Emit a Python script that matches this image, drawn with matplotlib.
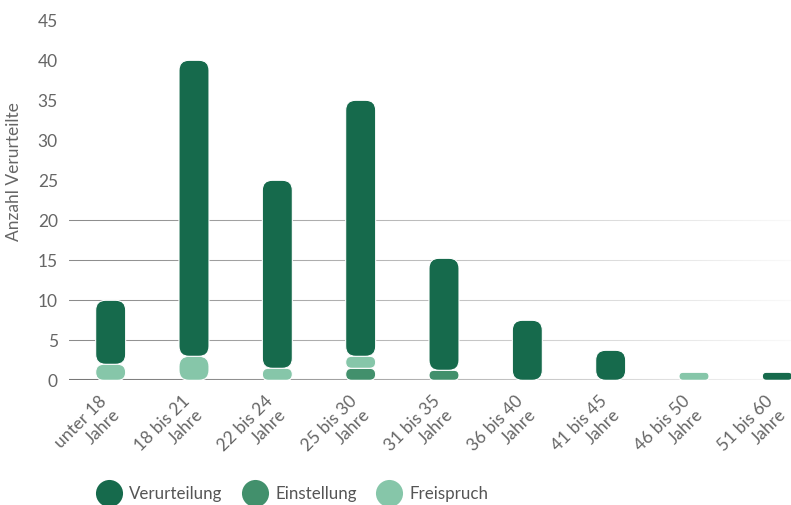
import matplotlib
matplotlib.use("Agg")
import matplotlib.pyplot as plt
import numpy as np
from matplotlib.patches import FancyBboxPatch
from matplotlib.lines import Line2D

# Age groups and case outcomes
categories = ["unter 18\nJahre", "18 bis 21\nJahre", "22 bis 24\nJahre",
              "25 bis 30\nJahre", "31 bis 35\nJahre", "36 bis 40\nJahre",
              "41 bis 45\nJahre", "46 bis 50\nJahre", "51 bis 60\nJahre"]
verurteilung = [8, 37, 23.5, 32, 14, 7.5, 3.75, 0, 1]
einstellung = [0, 0, 0, 1.5, 1.25, 0, 0, 0, 0]
freispruch = [2, 3, 1.5, 1.5, 0, 0, 0, 1, 0]
y_ticks = [0, 5, 10, 15, 20, 25, 30, 35, 40, 45]
grid_levels = [5, 10, 15, 20]

series_names = ["Verurteilung", "Einstellung", "Freispruch"]
colors = {"Verurteilung": "#166a4c", "Einstellung": "#42906c", "Freispruch": "#86c6a9"}
# stacking order from the baseline upwards
stack_order = [("Einstellung", einstellung), ("Freispruch", freispruch),
               ("Verurteilung", verurteilung)]

plt.rcParams["font.family"] = ["Lato", "DejaVu Sans"]
text_color = "#666666"

W, H = 791, 505
fig = plt.figure(figsize=(W / 100, H / 100), dpi=100)
# plot area runs past the right edge of the canvas
left_px, right_px, top_px, bottom_px = 69, 819, 20.3, 380.3
ax = fig.add_axes([left_px / W, 1 - bottom_px / H,
                   (right_px - left_px) / W, (bottom_px - top_px) / H])

n = len(categories)
ax.set_xlim(-0.5, n - 0.5)
ax.set_ylim(0, 45)
for s in ax.spines.values():
    s.set_visible(False)

# pixel size of one data unit
o = ax.transData.transform((0, 0))
px_x = ax.transData.transform((1, 0))[0] - o[0]
px_y = ax.transData.transform((0, 1))[1] - o[1]

# grid lines, then a white veil that fades them out towards the right
for yv in grid_levels:
    ax.axhline(yv, color="#8c8c8c", linewidth=0.75, zorder=1)
ax.axhline(0, color="#777777", linewidth=1.5, zorder=1)
fade = np.ones((2, 256, 4))
fade[..., 3] = np.linspace(0, 1, 256) ** 1.1
ax.imshow(fade, extent=(-0.5, n - 0.5, -0.6, 45), aspect="auto",
          interpolation="bilinear", zorder=2)

bar_w = 0.36
radius_px = 10


def rounded_bar(xc, bottom, height, color):
    h_px = height * px_y
    w_px = bar_w * px_x
    r = min(radius_px, h_px / 2, w_px / 2)
    patch = FancyBboxPatch((xc - bar_w / 2, bottom), bar_w, height,
                           boxstyle=f"round,pad=0,rounding_size={r / px_x}",
                           mutation_aspect=px_x / px_y,
                           facecolor=color, edgecolor="white", linewidth=0.8,
                           zorder=3)
    ax.add_patch(patch)


bottoms = np.zeros(n)
for name, vals in stack_order:
    for i, v in enumerate(vals):
        if v > 0:
            rounded_bar(i, bottoms[i], v, colors[name])
    bottoms += np.array(vals, dtype=float)

ax.set_xlim(-0.5, n - 0.5)
ax.set_ylim(0, 45)
ax.set_yticks(y_ticks)
ax.set_yticklabels([str(t) for t in y_ticks])
ax.tick_params(axis="y", length=0, pad=8, labelsize=12.5, labelcolor=text_color)
ax.set_xticks(range(n))
ax.set_xticklabels(categories, rotation=45, ha="right", va="center",
                   rotation_mode="anchor", multialignment="right")
ax.tick_params(axis="x", length=0, pad=18, labelsize=12.5, labelcolor=text_color)

fig.text(14 / W, 1 - 172 / H, "Anzahl Verurteilte", rotation=90,
         ha="center", va="center", fontsize=12.5, color=text_color)

handles = [Line2D([], [], linestyle="none", marker="o", markersize=19.5,
                  markerfacecolor=colors[s], markeredgecolor="none")
           for s in series_names]
leg = fig.legend(handles, series_names, loc="center left",
                 bbox_to_anchor=(97 / W, 1 - 494 / H), ncol=3, frameon=False,
                 fontsize=12.2, handlelength=1.45, handletextpad=0.45,
                 columnspacing=1.2, borderpad=0, borderaxespad=0)
for t in leg.get_texts():
    t.set_color("#555555")

fig.savefig("out.png", dpi=100)
